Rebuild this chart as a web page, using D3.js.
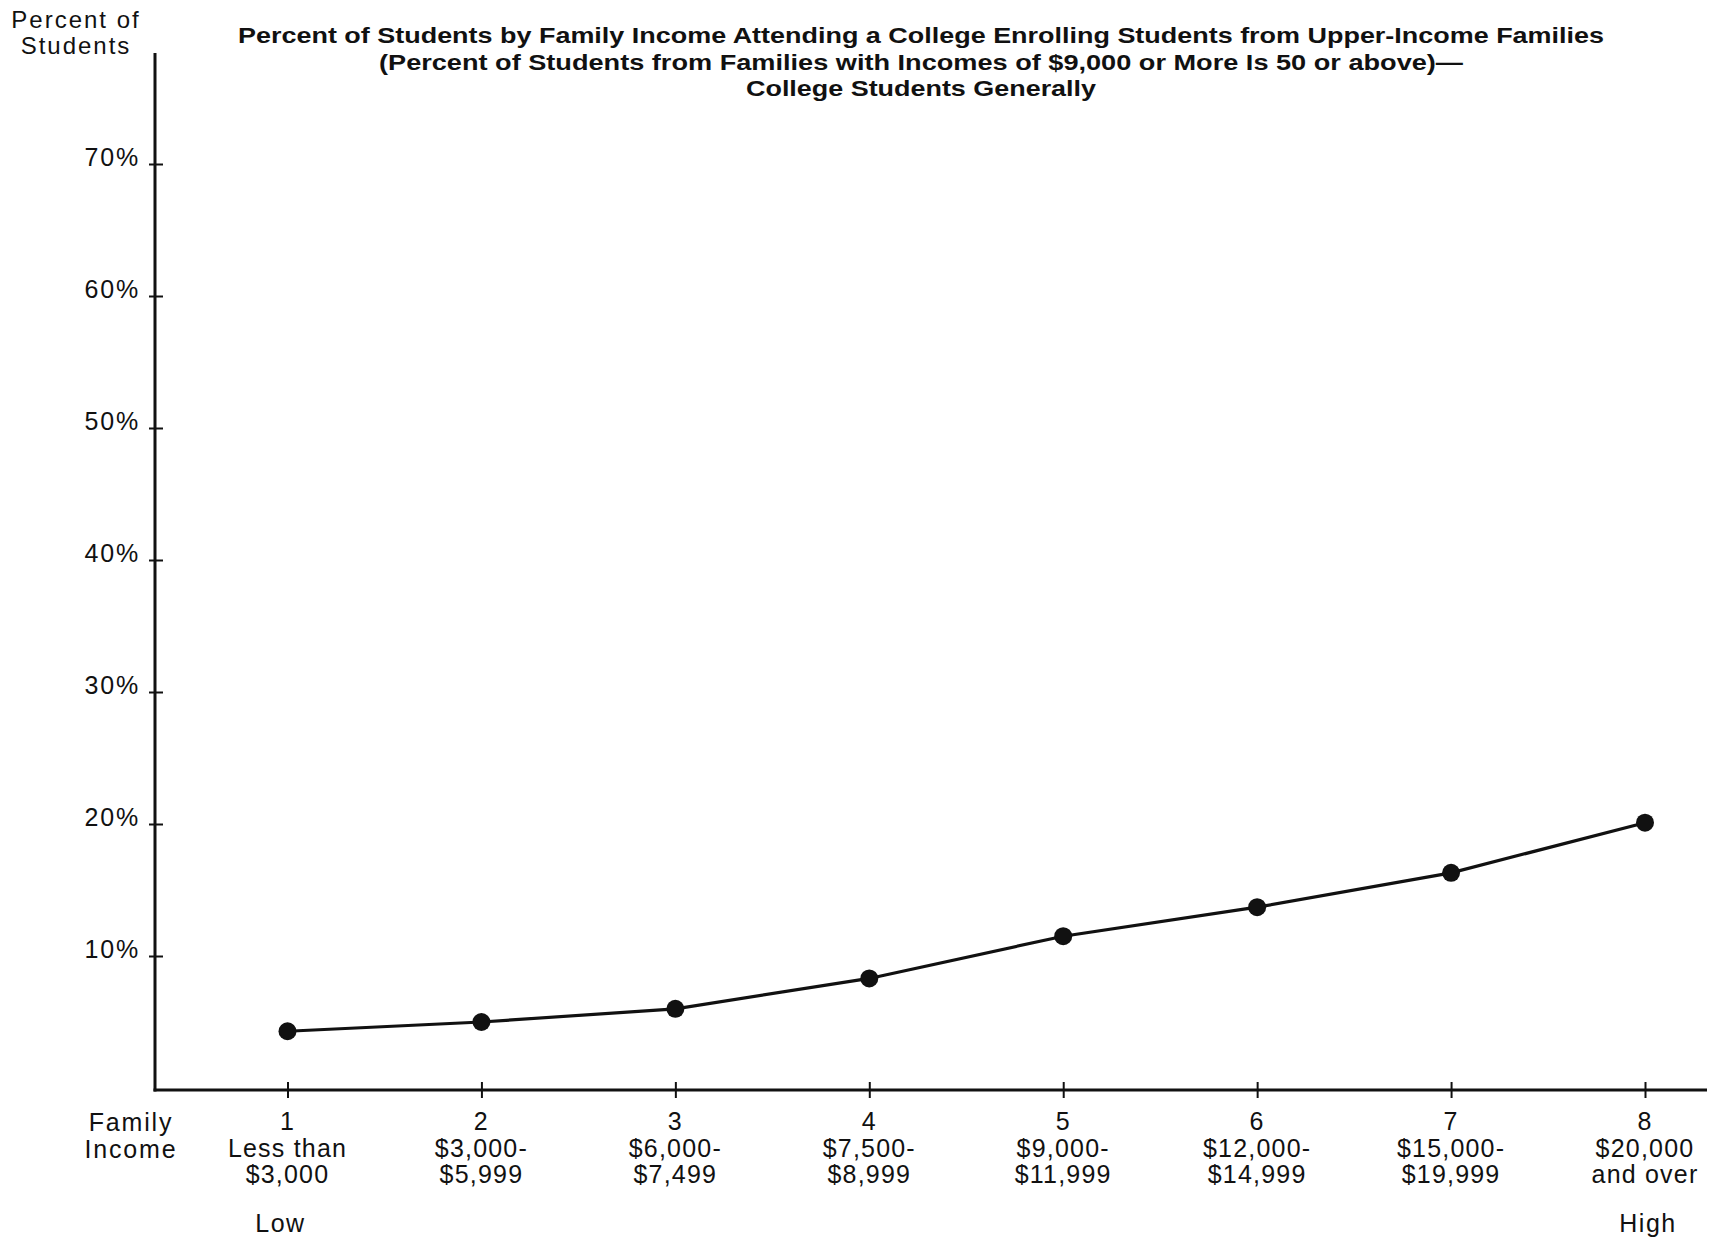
<!DOCTYPE html>
<html>
<head>
<meta charset="utf-8">
<script src="https://cdn.jsdelivr.net/npm/d3@7/dist/d3.min.js"></script>
<style>
  html, body { margin: 0; padding: 0; background: #fff; }
  svg { display: block; }
  text { font-family: "Liberation Sans", Arial, Helvetica, sans-serif; fill: #111; }
</style>
</head>
<body>
<svg id="chart" width="1716" height="1241"></svg>
<script>
// ---- data ----
const categories = [1, 2, 3, 4, 5, 6, 7, 8];
const incomeLine1 = ["Less than", "$3,000-", "$6,000-", "$7,500-", "$9,000-", "$12,000-", "$15,000-", "$20,000"];
const incomeLine2 = ["$3,000", "$5,999", "$7,499", "$8,999", "$11,999", "$14,999", "$19,999", "and over"];
const percentValues = [4.3, 5.0, 6.0, 8.3, 11.5, 13.7, 16.3, 20.1];
const yTickValues = [10, 20, 30, 40, 50, 60, 70];
const titleLines = [
  "Percent of Students by Family Income Attending a College Enrolling Students from Upper-Income Families",
  "(Percent of Students from Families with Incomes of $9,000 or More Is 50 or above)\u2014",
  "College Students Generally"
];
const yLabelLines = ["Percent of", "Students"];
const xLabelLines = ["Family", "Income"];
const endLabels = ["Low", "High"];

// ---- layout ----
const svg = d3.select("#chart");
const axisX = 155, axisY = 1090, axisTop = 53, axisRight = 1707;

const x = d3.scaleLinear().domain([1, 8]).range([287.5, 1645]);
const y = d3.scaleLinear().domain([0, 70]).range([1088, 164]);

// title
const titleG = svg.append("g");
const titleWidths = [1366, 1084, 350];
titleLines.forEach((t, i) => {
  titleG.append("text")
    .attr("x", 921).attr("y", 43 + i * 26.5)
    .attr("text-anchor", "middle")
    .attr("font-size", 22).attr("font-weight", "bold")
    .attr("textLength", titleWidths[i]).attr("lengthAdjust", "spacingAndGlyphs")
    .text(t);
});

// y label
yLabelLines.forEach((t, i) => {
  svg.append("text")
    .attr("x", 76).attr("y", 28 + i * 25.5)
    .attr("text-anchor", "middle")
    .attr("font-size", 24).attr("letter-spacing", 2)
    .text(t);
});

// y axis line
svg.append("line")
  .attr("x1", axisX).attr("x2", axisX)
  .attr("y1", axisTop).attr("y2", axisY + 1.5)
  .attr("stroke", "#111").attr("stroke-width", 3);
// x axis line
svg.append("line")
  .attr("x1", axisX - 1.5).attr("x2", axisRight)
  .attr("y1", axisY).attr("y2", axisY)
  .attr("stroke", "#111").attr("stroke-width", 3);

// y ticks (cross style)
const yAxisG = svg.append("g").attr("transform", `translate(${axisX},0)`)
  .call(d3.axisLeft(y).tickValues(yTickValues).tickSize(0).tickFormat(d => d + "%"));
yAxisG.select(".domain").remove();
yAxisG.selectAll(".tick text")
  .attr("x", -15).attr("dy", "0.05em")
  .attr("font-size", 25).attr("letter-spacing", 1.8).attr("fill", "#111")
  .style("font-family", '"Liberation Sans", Arial, sans-serif');
yAxisG.selectAll(".tick").append("line")
  .attr("x1", -6).attr("x2", 8).attr("y1", 0).attr("y2", 0)
  .attr("stroke", "#111").attr("stroke-width", 2);

// x ticks
const xAxisG = svg.append("g").attr("transform", `translate(0,${axisY})`)
  .call(d3.axisBottom(x).tickValues(categories).tickSize(0).tickFormat(""));
xAxisG.select(".domain").remove();
xAxisG.selectAll(".tick").append("line")
  .attr("y1", -8).attr("y2", 8)
  .attr("stroke", "#111").attr("stroke-width", 2);

// x labels
categories.forEach((c, i) => {
  const lines = [String(c), incomeLine1[i], incomeLine2[i]];
  lines.forEach((t, j) => {
    svg.append("text")
      .attr("x", x(c)).attr("y", 1130 + j * 26.5)
      .attr("text-anchor", "middle")
      .attr("font-size", 25).attr("letter-spacing", 1.2)
      .text(t);
  });
});
xLabelLines.forEach((t, j) => {
  svg.append("text")
    .attr("x", 131).attr("y", 1131 + j * 26.5)
    .attr("text-anchor", "middle")
    .attr("font-size", 25).attr("letter-spacing", 1.8)
    .text(t);
});
svg.append("text").attr("x", x(1) - 7).attr("y", 1232)
  .attr("text-anchor", "middle").attr("font-size", 25).attr("letter-spacing", 1.5).text(endLabels[0]);
svg.append("text").attr("x", x(8) + 3).attr("y", 1232)
  .attr("text-anchor", "middle").attr("font-size", 25).attr("letter-spacing", 1.5).text(endLabels[1]);

// line
const pts = categories.map((c, i) => [c, percentValues[i]]);
svg.append("path")
  .datum(pts)
  .attr("d", d3.line().x(d => x(d[0])).y(d => y(d[1])))
  .attr("fill", "none").attr("stroke", "#111").attr("stroke-width", 3.2);

svg.selectAll("circle.pt")
  .data(pts).enter().append("circle")
  .attr("class", "pt")
  .attr("cx", d => x(d[0])).attr("cy", d => y(d[1]))
  .attr("r", 9).attr("fill", "#111");
</script>
</body>
</html>
